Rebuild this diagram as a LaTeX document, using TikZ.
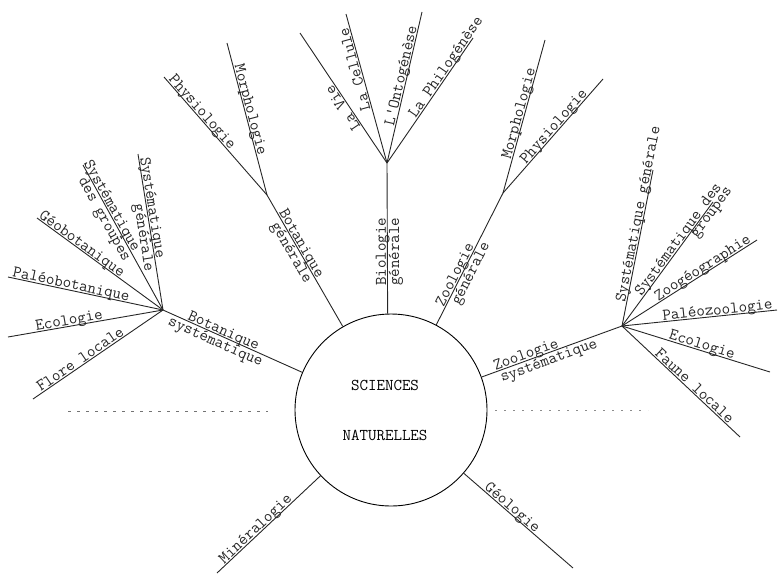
\documentclass[tikz,border=0pt]{standalone}
\usetikzlibrary{positioning,calc}
\begin{document}
\begin{tikzpicture}
[x=1pt,y=-1pt,font=\ttfamily\fontsize{16.5}{20}\selectfont,
branch/.style={black!85,line width=.9pt},
lbl/.style={sloped,allow upside down,anchor=base,inner sep=1pt,yshift=1.5pt},
lblb/.style={sloped,allow upside down,anchor=north,inner sep=1pt},
dashline/.style={black!55,line width=.8pt,dash pattern=on 3pt off 6pt},
dotline/.style={black!45,line width=.8pt,dash pattern=on 2pt off 7pt}]
%%%%%%%%%%

\useasboundingbox (0,0) rectangle (778,573);

\node[draw,circle,line width=.9pt,minimum size=192pt,align=center,inner sep=0pt] (sn) at (391,410) {SCIENCES\hspace*{12pt}\\[30pt]NATURELLES\hspace*{12pt}};

% hubs
\coordinate (bs) at (163,310);
\coordinate (bg) at (267,195);
\coordinate (big) at (387,163);
\coordinate (zg) at (503,193);
\coordinate (zs) at (622,326);

% ends
\coordinate (flore) at (33,399);
\coordinate (ecolb) at (8,337);
\coordinate (paleob) at (8,277);
\coordinate (geob) at (37,218);
\coordinate (sgrb) at (83,165);
\coordinate (sgeb) at (138,154);
\coordinate (physb) at (164,77);
\coordinate (morphb) at (227,43);
\coordinate (vie) at (300,33);
\coordinate (cell) at (346,14);
\coordinate (onto) at (422,12);
\coordinate (phil) at (473,38);
\coordinate (morphz) at (545,40);
\coordinate (physz) at (603,79);
\coordinate (sgez) at (653,170);
\coordinate (sgrz) at (713,202);
\coordinate (zoog) at (757,240);
\coordinate (paleoz) at (777,310);
\coordinate (ecolz) at (770,372);
\coordinate (faune) at (740,437);
\coordinate (mine) at (217,573);
\coordinate (geol) at (573,568);

% botanique systematique
\draw[branch] (bs) -- node[lbl,pos=.42] {Botanique} node[lblb,pos=.40] {systématique} (sn.157);
\draw[branch] (flore) -- node[lbl,pos=.39] {Flore locale} (bs);
\draw[branch] (ecolb) -- node[lbl,pos=.40] {Ecologie} (bs);
\draw[branch] (paleob) -- node[lbl,pos=.40] {Paléobotanique} (bs);
\draw[branch] (geob) -- node[lbl,pos=.33] {Géobotanique} (bs);
\draw[branch] (sgrb) -- node[lbl,pos=.30] {Systématique} node[lblb,pos=.35] {des groupes} (bs);
\draw[branch] (sgeb) -- node[lbl,pos=.35] {Systématique} node[lblb,pos=.53] {générale} (bs);

% botanique generale
\draw[branch] (bg) -- node[lbl,pos=.39] {Botanique} node[lblb,pos=.41] {générale} (sn.120);
\draw[branch] (physb) -- node[lbl,pos=.33] {Physiologie} (bg);
\draw[branch] (morphb) -- node[lbl,pos=.45] {Morphologie} (bg);

% biologie generale
\draw[branch] (sn.92) -- node[lbl,pos=.41] {Biologie} node[lblb,pos=.41] {générale} (big);
\draw[branch] (big) -- node[lbl,pos=.45] {La Vie} (vie);
\draw[branch] (big) -- node[lbl,pos=.64] {La Cellule} (cell);
\draw[branch] (big) -- node[lbl,pos=.57] {L'Ontogénèse} (onto);
\draw[branch] (big) -- node[lbl,pos=.74] {La Philogénèse} (phil);

% zoologie generale
\draw[branch] (sn.62) -- node[lbl,pos=.36] {Zoologie} node[lblb,pos=.415] {générale} (zg);
\draw[branch] (zg) -- node[lbl,pos=.51] {Morphologie} (morphz);
\draw[branch] (zg) -- node[lbl,pos=.55] {Physiologie} (physz);

% zoologie systematique
\draw[branch] (sn.20) -- node[lbl,pos=.33] {Zoologie} node[lblb,pos=.46] {systématique} (zs);
\draw[branch] (zs) -- node[lbl,pos=.71] {Systématique générale} (sgez);
\draw[branch] (zs) -- node[lbl,pos=.67] {Systématique des} node[lblb,pos=.94] {groupes} (sgrz);
\draw[branch] (zs) -- node[lbl,pos=.62] {Zoogéographie} (zoog);
\draw[branch] (zs) -- node[lbl,pos=.62] {Paléozoologie} (paleoz);
\draw[branch] (zs) -- node[lbl,pos=.53] {Ecologie} (ecolz);
\draw[branch] (zs) -- node[lbl,pos=.58] {Faune locale} (faune);

% mineralogie, geologie
\draw[branch] (mine) -- node[lbl,pos=.41] {Minéralogie} (sn.-137);
\draw[branch] (sn.-41) -- node[lbl,pos=.41] {Géologie} (geol);

\draw[dashline] (68,411) -- (268,411);
\draw[dotline] (495,410) -- (648,410);
\end{tikzpicture}
\end{document}
